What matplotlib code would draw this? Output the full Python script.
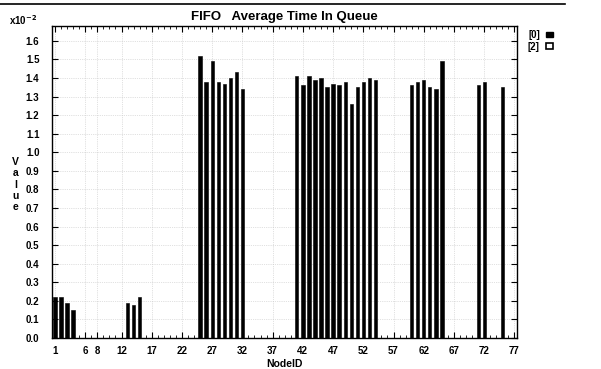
import numpy as np
import matplotlib
matplotlib.use("Agg")
import matplotlib.pyplot as plt
from matplotlib.patches import Patch
from matplotlib.lines import Line2D
from matplotlib.ticker import MultipleLocator

# --- data (values in units of 1e-2) ---
node_ids = np.arange(1, 78)
values_0 = [
    0.22, 0.22, 0.19, 0.15, 0, 0, 0, 0, 0, 0,            # 1-10
    0, 0, 0.19, 0.18, 0.22, 0, 0, 0, 0, 0,               # 11-20
    0, 0, 0, 0, 1.52, 1.38, 1.49, 1.38, 1.37, 1.40,      # 21-30
    1.43, 1.34, 0, 0, 0, 0, 0, 0, 0, 0,                  # 31-40
    1.41, 1.36, 1.41, 1.39, 1.40, 1.35, 1.37, 1.36, 1.38, 1.26,  # 41-50
    1.35, 1.38, 1.40, 1.39, 0, 0, 0, 0, 0, 1.36,         # 51-60
    1.38, 1.39, 1.35, 1.34, 1.49, 0, 0, 0, 0, 0,         # 61-70
    1.36, 1.38, 0, 0, 1.35, 0, 0,                        # 71-77
]
x_ticks = [1, 6, 8, 12, 17, 22, 27, 32, 37, 42, 47, 52, 57, 62, 67, 72, 77]
y_ticks = [0.0, 0.1, 0.2, 0.3, 0.4, 0.5, 0.6, 0.7, 0.8, 0.9, 1.0, 1.1, 1.2, 1.3, 1.4, 1.5, 1.6]
legend_labels = ["[0]", "[2]"]

plt.rcParams['font.family'] = ['Liberation Sans', 'DejaVu Sans']
plt.rcParams['font.weight'] = 'bold'

fig = plt.figure(figsize=(6.01, 3.69), dpi=100)
ax = fig.add_axes([0.0865, 0.084, 0.7735, 0.8455])

ax.bar(node_ids, values_0, width=0.55, color='black', edgecolor='black', linewidth=0.4)

ax.set_xlim(0.5, 77.4)
ax.set_ylim(0, 1.68)
ax.set_xticks(x_ticks)
ax.set_xticklabels([str(t) for t in x_ticks], fontsize=7, fontweight='bold')
ax.set_yticks(y_ticks)
ax.set_yticklabels(["%.1f" % t for t in y_ticks], fontsize=7, fontweight='bold')
ax.xaxis.set_minor_locator(MultipleLocator(1))

ax.tick_params(axis='both', which='major', direction='in', length=4, width=0.8,
               top=True, right=True)
ax.tick_params(axis='y', which='major', pad=9)
ax.tick_params(axis='x', which='major', pad=6)
ax.tick_params(axis='both', which='minor', direction='in', length=2, width=0.6,
               top=True, right=False)
ax.grid(True, which='major', linestyle=':', linewidth=0.5, color='#c4c4c4')
ax.set_axisbelow(True)
for s in ax.spines.values():
    s.set_linewidth(1.0)

ax.set_title("FIFO   Average Time In Queue", fontsize=9.5, fontweight='bold', pad=4)
ax.set_xlabel("NodeID", fontsize=7.5, fontweight='bold', labelpad=2)
fig.text(0.026, 0.50, "V\na\nl\nu\ne", fontsize=7.5, fontweight='bold',
         ha='center', va='center', linespacing=1.15)
fig.text(0.015, 0.945, r"x10$^{-2}$", fontsize=7, fontweight='bold', va='center')

handles = [Patch(facecolor='black', edgecolor='black'),
           Patch(facecolor='white', edgecolor='black', linewidth=1.2)]
ax.legend(handles, legend_labels, loc='upper left', bbox_to_anchor=(1.005, 1.015),
          frameon=False, markerfirst=False, handlelength=0.8, handleheight=0.5,
          handletextpad=0.6, labelspacing=0.15,
          prop={'weight': 'bold', 'size': 7})

# page edge line at the top of the scan
fig.add_artist(Line2D([0.0, 0.94], [0.99, 0.99], transform=fig.transFigure,
                      color='black', linewidth=1.2))

fig.savefig("out.png", dpi=100)
